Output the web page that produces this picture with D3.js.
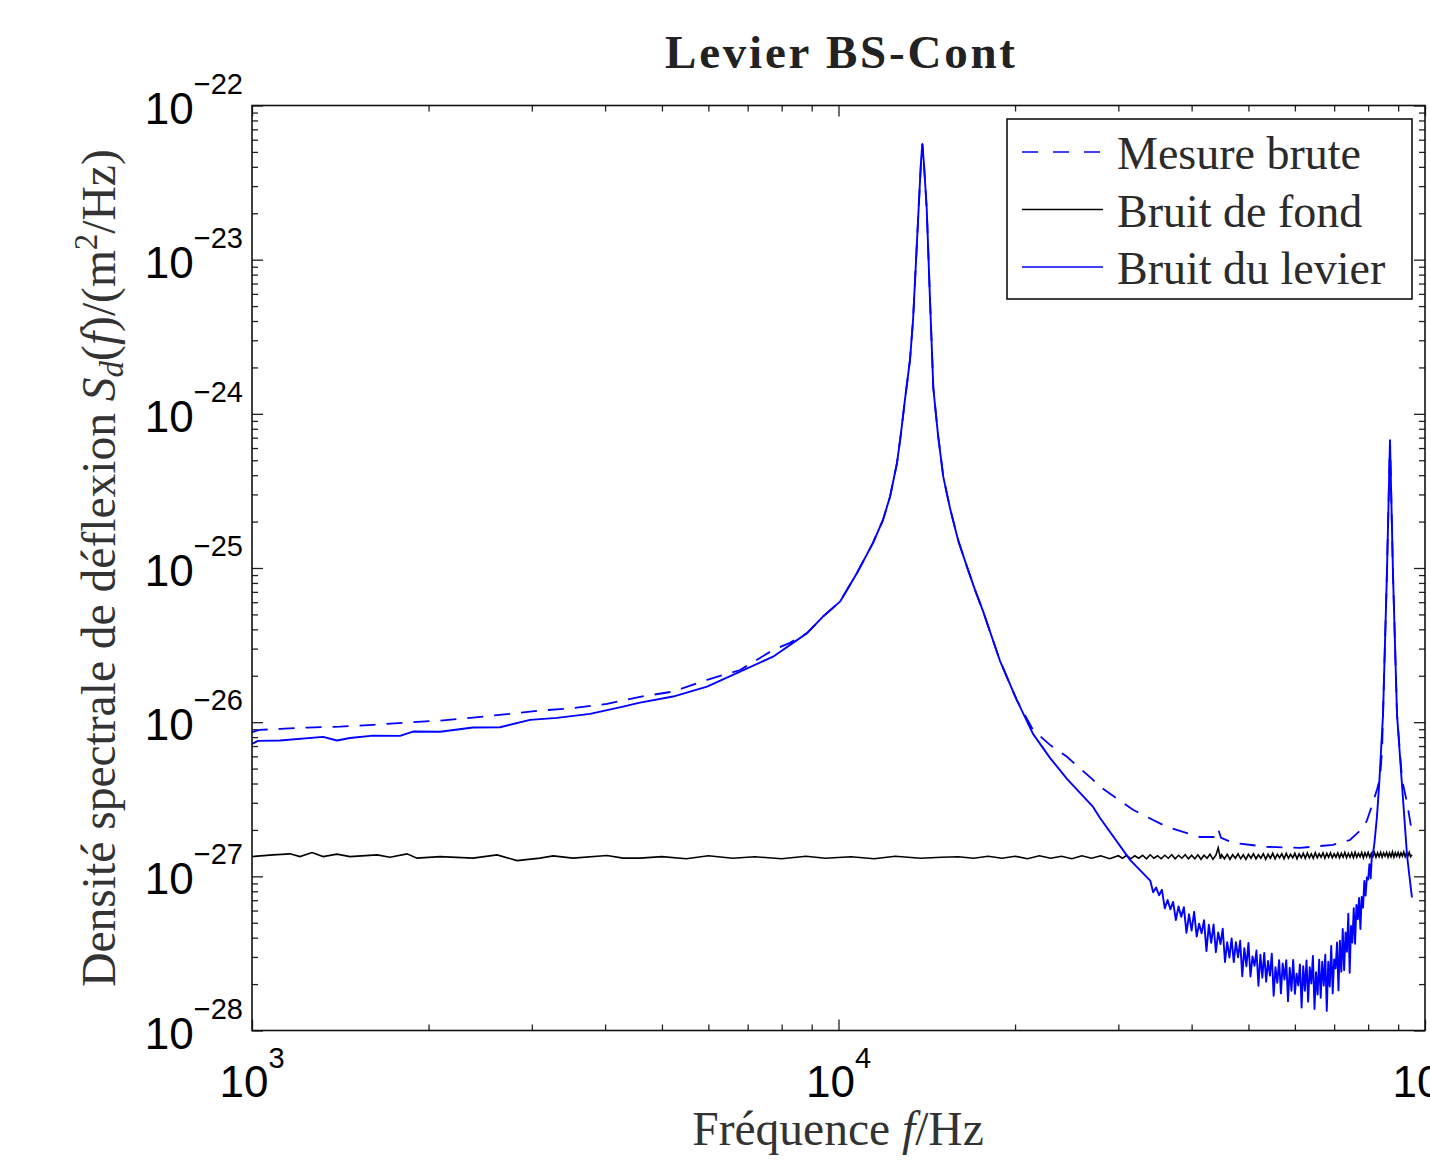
<!DOCTYPE html>
<html>
<head>
<meta charset="utf-8">
<script src="https://cdn.jsdelivr.net/npm/d3@7"></script>
<style>
  body { margin: 0; background: #fff; }
  svg { display: block; }
</style>
</head>
<body>
<div id="chart"></div>
<script>
// ---- data: [frequency in Hz, PSD in m^2/Hz] ----
const mesureBrute = [
  [1000, 8.61e-27], [1030, 8.91e-27], [1116, 9.04e-27], [1241, 9.23e-27], [1413, 9.36e-27],
  [1608, 9.60e-27], [1838, 9.94e-27], [2093, 1.024e-26], [2381, 1.071e-26], [2721, 1.127e-26],
  [3098, 1.189e-26], [3526, 1.232e-26], [4030, 1.314e-26], [4587, 1.46e-26], [5223, 1.579e-26],
  [5969, 1.88e-26], [6794, 2.18e-26], [7262, 2.54e-26], [7735, 2.94e-26], [8266, 3.27e-26],
  [8838, 3.78e-26], [9409, 4.84e-26], [10059, 6.05e-26], [10754, 9.29e-26], [11451, 1.455e-25],
  [11909, 2.05e-25], [12241, 2.9e-25], [12582, 4.8e-25], [12770, 7.3e-25], [12980, 1.23e-24],
  [13240, 2.24e-24], [13400, 4.06e-24], [13560, 9.96e-24], [13720, 2.44e-23], [13830, 4.43e-23],
  [13900, 5.63e-23], [13990, 4.11e-23], [14140, 2.13e-23], [14320, 5.59e-24], [14510, 1.47e-24],
  [14780, 7.3e-25], [15090, 3.9e-25], [15490, 2.45e-25], [15990, 1.52e-25], [16540, 1.032e-25],
  [17090, 7.21e-26], [17630, 5.27e-26], [18850, 2.5e-26], [20130, 1.395e-26], [21460, 8.91e-27],
  [22940, 7.12e-27], [24520, 5.96e-27], [27170, 4.22e-27], [27920, 3.81e-27], [31780, 2.7e-27],
  [36320, 2.09e-27], [41340, 1.8e-27], [43800, 1.8e-27], [44370, 2.03e-27], [44900, 1.78e-27],
  [47050, 1.65e-27], [53780, 1.553e-27], [61220, 1.53e-27], [69690, 1.6e-27], [74500, 1.72e-27],
  [78390, 2.06e-27], [79600, 2.3e-27], [81500, 3.0e-27], [82800, 3.64e-27], [83800, 4.32e-27],
  [84500, 6.61e-27], [84800, 1.115e-26], [86100, 9.02e-26], [87160, 6.74e-25], [88200, 9.02e-26],
  [89600, 1.115e-26], [91400, 4.22e-27], [93200, 3.0e-27], [94600, 2.13e-27]
];

const bruitFond = [
  [1000, 1.343e-27], [1086, 1.378e-27], [1161, 1.399e-27], [1207, 1.343e-27], [1266, 1.426e-27],
  [1322, 1.343e-27], [1396, 1.393e-27], [1469, 1.343e-27], [1634, 1.378e-27], [1719, 1.33e-27],
  [1838, 1.399e-27], [1911, 1.312e-27], [2093, 1.343e-27], [2381, 1.312e-27], [2617, 1.378e-27],
  [2830, 1.265e-27], [3098, 1.312e-27], [3261, 1.357e-27], [3526, 1.312e-27], [4030, 1.364e-27],
  [4292, 1.312e-27], [4587, 1.312e-27], [5000, 1.343e-27], [5500, 1.30e-27], [6000, 1.36e-27],
  [6600, 1.31e-27], [7200, 1.34e-27], [8000, 1.30e-27], [8800, 1.35e-27], [9500, 1.31e-27],
  [10500, 1.34e-27], [11500, 1.30e-27], [12500, 1.35e-27], [13800, 1.31e-27], [15000, 1.33e-27],
  [16000, 1.34e-27], [17000, 1.31e-27], [18000, 1.35e-27], [19000, 1.31e-27], [20000, 1.35e-27],
  [21000, 1.30e-27], [22000, 1.36e-27], [23000, 1.31e-27], [24000, 1.35e-27], [25000, 1.30e-27],
  [26000, 1.36e-27], [27000, 1.31e-27], [28000, 1.36e-27], [29000, 1.30e-27],
  [30000, 1.36e-27], [30500, 1.31e-27], [31000, 1.37e-27], [31500, 1.30e-27], [32000, 1.36e-27],
  [32500, 1.31e-27], [33000, 1.37e-27], [33500, 1.30e-27], [34000, 1.38e-27], [34500, 1.31e-27],
  [35000, 1.36e-27], [35500, 1.30e-27], [36000, 1.37e-27], [36500, 1.31e-27], [37000, 1.38e-27],
  [37500, 1.30e-27], [38000, 1.37e-27], [38500, 1.31e-27], [39000, 1.38e-27], [39500, 1.30e-27],
  [40000, 1.37e-27], [40500, 1.30e-27], [41000, 1.38e-27], [41500, 1.29e-27], [42000, 1.37e-27],
  [42500, 1.31e-27], [43000, 1.39e-27], [43500, 1.29e-27], [44000, 1.37e-27], [44400, 1.53e-27],
  [44800, 1.30e-27], [45000, 1.38e-27], [45500, 1.30e-27], [46000, 1.39e-27], [46500, 1.29e-27],
  [47000, 1.38e-27], [47500, 1.31e-27], [48000, 1.40e-27], [48500, 1.30e-27], [49000, 1.38e-27],
  [49500, 1.29e-27], [50000, 1.39e-27], [50500, 1.31e-27], [51000, 1.40e-27], [51500, 1.30e-27],
  [52000, 1.38e-27], [52500, 1.31e-27], [53000, 1.40e-27], [53500, 1.29e-27], [54000, 1.39e-27],
  [54500, 1.31e-27], [55000, 1.41e-27], [55500, 1.30e-27], [56000, 1.39e-27], [56500, 1.32e-27],
  [57000, 1.40e-27], [57500, 1.30e-27], [58000, 1.41e-27], [58500, 1.31e-27], [59000, 1.39e-27],
  [59500, 1.32e-27], [60000, 1.41e-27], [60500, 1.30e-27], [61000, 1.40e-27], [61500, 1.32e-27],
  [62000, 1.41e-27], [62500, 1.31e-27], [63000, 1.42e-27], [63500, 1.32e-27], [64000, 1.40e-27],
  [64500, 1.31e-27], [65000, 1.42e-27], [65500, 1.32e-27], [66000, 1.40e-27], [66500, 1.33e-27],
  [67000, 1.42e-27], [67500, 1.31e-27], [68000, 1.41e-27], [68500, 1.33e-27], [69000, 1.42e-27],
  [69500, 1.32e-27], [70000, 1.40e-27], [70500, 1.33e-27], [71000, 1.42e-27], [71500, 1.32e-27],
  [72000, 1.41e-27], [72500, 1.33e-27], [73000, 1.43e-27], [73500, 1.32e-27], [74000, 1.41e-27],
  [74500, 1.33e-27], [75000, 1.42e-27], [75500, 1.32e-27], [76000, 1.43e-27], [76500, 1.33e-27],
  [77000, 1.41e-27], [77500, 1.34e-27], [78000, 1.43e-27], [78500, 1.32e-27], [79000, 1.42e-27],
  [79500, 1.34e-27], [80000, 1.43e-27], [80500, 1.33e-27], [81000, 1.41e-27], [81500, 1.34e-27],
  [82000, 1.43e-27], [82500, 1.33e-27], [83000, 1.42e-27], [83500, 1.34e-27], [84000, 1.43e-27],
  [84500, 1.33e-27], [85000, 1.42e-27], [85500, 1.35e-27], [86000, 1.43e-27], [86500, 1.33e-27],
  [87000, 1.42e-27], [87500, 1.34e-27], [88000, 1.44e-27], [88500, 1.33e-27], [89000, 1.42e-27],
  [89500, 1.35e-27], [90000, 1.43e-27], [90500, 1.34e-27], [91000, 1.42e-27], [91500, 1.35e-27],
  [92000, 1.44e-27], [92500, 1.34e-27], [93000, 1.42e-27], [93500, 1.35e-27], [94000, 1.43e-27],
  [94500, 1.34e-27], [95000, 1.38e-27]
];

const bruitLevier = [
  [1000, 7.23e-27], [1024, 7.56e-27], [1116, 7.6e-27], [1322, 8.03e-27], [1396, 7.6e-27],
  [1469, 7.9e-27], [1608, 8.18e-27], [1788, 8.15e-27], [1882, 8.69e-27], [2093, 8.67e-27],
  [2381, 9.23e-27], [2648, 9.27e-27], [2979, 1.035e-26], [3312, 1.066e-26], [3770, 1.132e-26],
  [4292, 1.262e-26], [4587, 1.34e-26], [5223, 1.466e-26], [5969, 1.702e-26], [6794, 2.13e-26],
  [7735, 2.66e-26], [8838, 3.78e-26], [9409, 4.84e-26], [10059, 6.05e-26], [10754, 9.29e-26],
  [11451, 1.455e-25], [11909, 2.05e-25], [12241, 2.9e-25], [12582, 4.8e-25], [12770, 7.3e-25],
  [12980, 1.23e-24], [13240, 2.24e-24], [13400, 4.06e-24], [13560, 9.96e-24], [13720, 2.44e-23],
  [13830, 4.43e-23], [13900, 5.63e-23], [13990, 4.11e-23], [14140, 2.13e-23], [14320, 5.59e-24],
  [14510, 1.47e-24], [14780, 7.3e-25], [15090, 3.9e-25], [15490, 2.45e-25], [15990, 1.52e-25],
  [16540, 1.032e-25], [17090, 7.21e-26], [17630, 5.27e-26], [18850, 2.5e-26], [20130, 1.395e-26],
  [21460, 8.4e-27], [22940, 5.87e-27], [24520, 4.29e-27], [27170, 2.82e-27], [27920, 2.39e-27],
  [31410, 1.279e-27],
  // noisy valley between the two resonances
  [34000, 9.39e-28], [34400, 7.89e-28], [34800, 8.45e-28], [35200, 7.54e-28], [35600, 8.18e-28],
  [36000, 6.20e-28], [36400, 7.03e-28], [36800, 6.11e-28], [37200, 6.83e-28], [37600, 5.21e-28],
  [38000, 6.38e-28], [38400, 5.46e-28], [38800, 6.31e-28], [39200, 4.30e-28], [39600, 5.67e-28],
  [40000, 4.45e-28], [40400, 5.89e-28], [40800, 4.07e-28], [41200, 4.93e-28], [41600, 4.27e-28],
  [42000, 5.20e-28], [42400, 3.27e-28], [42800, 4.85e-28], [43200, 3.70e-28], [43600, 4.87e-28],
  [44000, 3.22e-28], [44400, 4.33e-28], [44800, 3.64e-28], [45200, 4.57e-28], [45600, 2.78e-28],
  [46000, 3.74e-28], [46400, 2.97e-28], [46800, 3.96e-28], [47200, 2.78e-28], [47600, 3.74e-28],
  [48000, 2.98e-28], [48400, 3.82e-28], [48800, 2.25e-28], [49200, 3.42e-28], [49600, 2.61e-28],
  [50000, 3.70e-28], [50400, 2.24e-28], [50800, 3.02e-28], [51200, 2.63e-28], [51600, 3.30e-28],
  [52000, 1.95e-28], [52400, 3.10e-28], [52800, 2.20e-28], [53200, 3.19e-28], [53600, 2.07e-28],
  [54000, 2.83e-28], [54400, 2.27e-28], [54800, 3.15e-28], [55200, 1.68e-28], [55600, 2.57e-28],
  [56000, 2.04e-28], [56400, 2.86e-28], [56800, 1.74e-28], [57200, 2.72e-28], [57600, 2.14e-28],
  [58000, 2.86e-28], [58400, 1.55e-28], [58800, 2.55e-28], [59200, 1.81e-28], [59600, 2.87e-28],
  [60000, 1.73e-28], [60400, 2.34e-28], [60800, 1.96e-28], [61200, 2.68e-28], [61600, 1.41e-28],
  [62000, 2.61e-28], [62400, 1.81e-28], [62800, 2.85e-28], [63200, 1.54e-28], [63600, 2.57e-28],
  [64000, 2.02e-28], [64400, 3.05e-28], [64800, 1.38e-28], [65200, 2.39e-28], [65600, 1.71e-28],
  [66000, 2.88e-28], [66400, 1.63e-28], [66800, 2.79e-28], [67200, 1.96e-28], [67600, 3.10e-28],
  [68000, 1.34e-28], [68400, 2.79e-28], [68800, 1.93e-28], [69200, 3.54e-28], [69600, 1.74e-28],
  [70000, 2.89e-28], [70400, 2.53e-28], [70800, 3.72e-28], [71200, 1.82e-28], [71600, 3.82e-28],
  [72000, 2.41e-28], [72400, 4.55e-28], [72800, 2.46e-28], [73200, 4.32e-28], [73600, 3.24e-28],
  [74000, 5.72e-28], [74400, 2.37e-28], [74800, 4.77e-28], [75200, 3.72e-28], [75600, 6.21e-28],
  [76000, 3.65e-28], [76400, 6.51e-28], [76800, 5.28e-28], [77200, 7.25e-28], [77600, 4.55e-28],
  [78000, 7.36e-28], [78400, 6.27e-28], [78800, 9.35e-28], [79200, 7.50e-28], [79600, 9.85e-28],
  [80000, 9.52e-28], [80400, 1.20e-27], [80800, 9.71e-28], [81200, 1.42e-27], [81600, 1.44e-27],
  [82000, 1.65e-27],
  // second resonance
  [82800, 2.43e-27], [83500, 3.84e-27], [84800, 1.115e-26], [86100, 9.02e-26], [87160, 6.74e-25],
  [88200, 9.02e-26], [89600, 1.115e-26], [91400, 3.84e-27], [93200, 1.36e-27], [95000, 7.29e-28]
];

const xTickExps = [3, 4, 5];
const yTickExps = [-22, -23, -24, -25, -26, -27, -28];
const legendLabels = ["Mesure brute", "Bruit de fond", "Bruit du levier"];

// ---- layout ----
const W = 1430, H = 1163;
const plotLeft = 252, plotRight = 1425, plotTop = 105.5, plotBottom = 1030.5;

const svg = d3.select("#chart").append("svg")
  .attr("width", W).attr("height", H)
  .style("font-family", "'Liberation Serif', serif");

const x = d3.scaleLog().domain([1e3, 1e5]).range([plotLeft, plotRight]);
const y = d3.scaleLog().domain([1e-28, 1e-22]).range([plotBottom, plotTop]);

// minor + major tick values
const majorX = xTickExps.map(e => Math.pow(10, e));
const minorX = [];
[3, 4].forEach(e => { for (let k = 2; k <= 9; k++) minorX.push(k * Math.pow(10, e)); });
const majorY = yTickExps.map(e => Math.pow(10, e));
const minorY = [];
yTickExps.slice(1).forEach(e => { for (let k = 2; k <= 9; k++) minorY.push(k * Math.pow(10, e)); });

function ticks(axis, pos, values, len) {
  const g = svg.append("g")
    .attr("transform", pos)
    .call(axis.tickValues(values).tickSize(-len).tickSizeOuter(0).tickFormat(""));
  g.select(".domain").remove();
  g.selectAll("line").attr("stroke", "#222").attr("stroke-width", 1.3);
}
ticks(d3.axisBottom(x), `translate(0,${plotBottom})`, majorX, 11);
ticks(d3.axisBottom(x), `translate(0,${plotBottom})`, minorX, 6);
ticks(d3.axisTop(x), `translate(0,${plotTop})`, majorX, 11);
ticks(d3.axisTop(x), `translate(0,${plotTop})`, minorX, 6);
ticks(d3.axisLeft(y), `translate(${plotLeft},0)`, majorY, 11);
ticks(d3.axisLeft(y), `translate(${plotLeft},0)`, minorY, 6);
ticks(d3.axisRight(y), `translate(${plotRight},0)`, majorY, 11);
ticks(d3.axisRight(y), `translate(${plotRight},0)`, minorY, 6);

// ---- curves ----
const line = d3.line().x(d => x(d[0])).y(d => y(d[1]));

svg.append("path").datum(bruitFond)
  .attr("d", line).attr("fill", "none")
  .attr("stroke", "#000").attr("stroke-width", 1.6);

svg.append("path").datum(bruitLevier)
  .attr("d", line).attr("fill", "none")
  .attr("stroke", "#0000ff").attr("stroke-width", 1.9).attr("stroke-linejoin", "round");

svg.append("path").datum(mesureBrute)
  .attr("d", line).attr("fill", "none")
  .attr("stroke", "#0000ff").attr("stroke-width", 1.8)
  .attr("stroke-dasharray", "16,11");

// frame
svg.append("rect")
  .attr("x", plotLeft).attr("y", plotTop)
  .attr("width", plotRight - plotLeft).attr("height", plotBottom - plotTop)
  .attr("fill", "none").attr("stroke", "#111").attr("stroke-width", 1.6);

// ---- tick labels (10 with superscript exponent) ----
const tickFont = "'Liberation Sans', Arial, sans-serif";
yTickExps.forEach(e => {
  const t = svg.append("text")
    .attr("x", 243).attr("y", y(Math.pow(10, e)) + 18)
    .attr("text-anchor", "end")
    .style("font-family", tickFont).style("font-size", "44px").attr("fill", "#000");
  t.append("tspan").text("10");
  t.append("tspan").attr("dy", -30).style("font-size", "29px").text("\u2212" + Math.abs(e));
});
xTickExps.forEach(e => {
  const t = svg.append("text")
    .attr("x", x(Math.pow(10, e))).attr("y", 1097)
    .attr("text-anchor", "middle")
    .style("font-family", tickFont).style("font-size", "44px").attr("fill", "#000");
  t.append("tspan").text("10");
  t.append("tspan").attr("dy", -29).style("font-size", "29px").text(e);
});

// ---- title and axis labels ----
svg.append("text")
  .attr("x", 840).attr("y", 68)
  .attr("text-anchor", "middle")
  .style("font-size", "47px").style("font-weight", "bold")
  .attr("textLength", 350).attr("lengthAdjust", "spacing")
  .attr("fill", "#222")
  .text("Levier BS-Cont");

const xl = svg.append("text")
  .attr("x", 838).attr("y", 1145)
  .attr("text-anchor", "middle")
  .style("font-size", "47.5px").attr("fill", "#333");
xl.append("tspan").text("Fréquence ");
xl.append("tspan").style("font-style", "italic").text("f");
xl.append("tspan").text("/Hz");

const yl = svg.append("text")
  .attr("transform", "translate(115,568) rotate(-90)")
  .attr("text-anchor", "middle")
  .style("font-size", "47.5px").attr("fill", "#333");
yl.append("tspan").text("Densité spectrale de déflexion ");
yl.append("tspan").style("font-style", "italic").text("S");
yl.append("tspan").style("font-style", "italic").style("font-size", "33px").attr("dy", 8).text("d");
yl.append("tspan").attr("dy", -8).text("(");
yl.append("tspan").style("font-style", "italic").text("f");
yl.append("tspan").text(")/(m");
yl.append("tspan").style("font-size", "33px").attr("dy", -18).text("2");
yl.append("tspan").attr("dy", 18).text("/Hz)");

// ---- legend ----
const lg = svg.append("g");
lg.append("rect")
  .attr("x", 1007).attr("y", 119).attr("width", 405).attr("height", 180)
  .attr("fill", "#fff").attr("stroke", "#111").attr("stroke-width", 1.6);

const legendStyles = [
  { color: "#0000ff", dash: "16,15" },
  { color: "#000", dash: null },
  { color: "#0000ff", dash: null }
];
legendLabels.forEach((lab, i) => {
  const cy = 152 + i * 57.5;
  lg.append("line")
    .attr("x1", 1022).attr("x2", 1103).attr("y1", cy).attr("y2", cy)
    .attr("stroke", legendStyles[i].color).attr("stroke-width", 1.5)
    .attr("stroke-dasharray", legendStyles[i].dash);
  lg.append("text")
    .attr("x", 1117).attr("y", cy + 17)
    .style("font-size", "46px").attr("fill", "#2b2b2b")
    .text(lab);
});
</script>
</body>
</html>
